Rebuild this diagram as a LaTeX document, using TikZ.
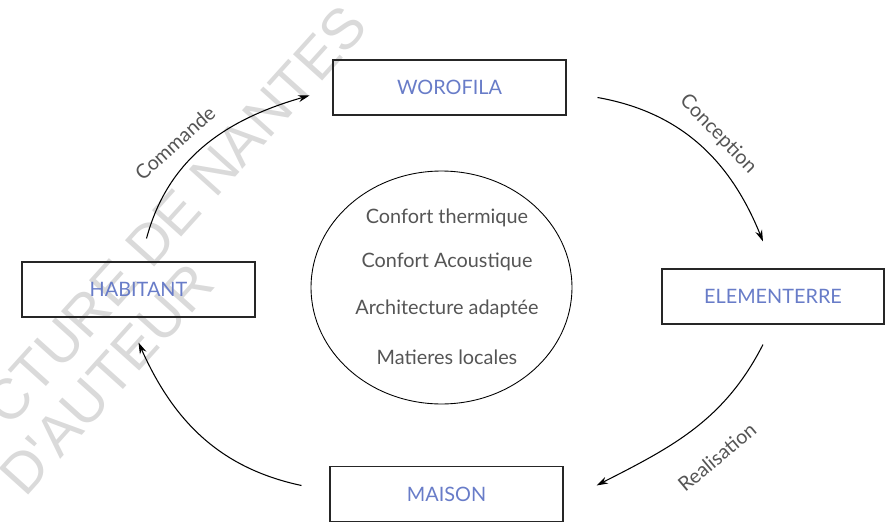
\documentclass[tikz,border=0pt]{standalone}
\usepackage{fontspec}
\setmainfont{Lato}
\newfontfamily\wmfont{Liberation Sans}
\usepackage{tikz}
\usepackage{xcolor}
\usetikzlibrary{arrows.meta,shapes,calc}
\definecolor{boxblue}{RGB}{104,124,200}
\definecolor{txtgray}{RGB}{85,85,85}
\definecolor{wmgray}{RGB}{218,218,218}

\begin{document}
\begin{tikzpicture}[x=0.02cm,y=0.02cm,>={Stealth[length=6.5pt,width=4pt]},
box/.style={draw=black!85,line width=.6pt,minimum width=4.66cm,minimum height=1.1cm,text=boxblue,font=\fontsize{11.3}{13}\selectfont},
txt/.style={text=txtgray,font=\fontsize{11.3}{13}\selectfont},
wm/.style={text=wmgray,font=\wmfont\fontsize{32.5}{38}\selectfont,rotate=48,inner sep=0pt}]
\useasboundingbox(0,0)rectangle(894,522);
\node[wm](wma)at(175,307){CTURE DE NANTES};
\node[wm](wmb)at(107,143){D'AUTEUR};
\node[box](worofila)at(449.5,434.5){WOROFILA};
\node[box,minimum width=4.44cm](elementerre)at(773,225.5){ELEMENTERRE};
\node[box](habitant)at(138.5,232.5){HABITANT};
\node[box](maison)at(446.5,28){MAISON};
\node[draw,ellipse,line width=.5pt,minimum width=5.22cm,minimum height=4.66cm,inner sep=0pt](ell)at(441.5,234.5){};
\node[txt](t1)at(447,304){Confort thermique};
\node[txt](t2)at(447,260){Confort Acoustique};
\node[txt](t3)at(447,213){Architecture adaptée};
\node[txt](t4)at(447,165){Matieres locales};
\draw[->,line width=.6pt]($(habitant.north)+(8,23)$)to[out=75,in=196]($(worofila.west)+(-23,-8)$);
\draw[->,line width=.6pt]($(worofila.east)+(31,-10)$)to[out=-10,in=112]($(elementerre.north)+(-10,27)$);
\draw[->,line width=.6pt]($(elementerre.south)+(-10,-20)$)to[out=-117,in=27]($(maison.east)+(33,8.5)$);
\draw[->,line width=.6pt]($(maison.west)+(-28,8.5)$)to[out=168,in=-66]($(habitant.south)+(0,-25)$);
\node[txt,rotate=42](lcmd)at(175,379){Commande};
\node[txt,rotate=-46](lcon)at(718,388){Conception};
\node[txt,rotate=40](lrea)at(717,65){Realisation};
\end{tikzpicture}
\end{document}
